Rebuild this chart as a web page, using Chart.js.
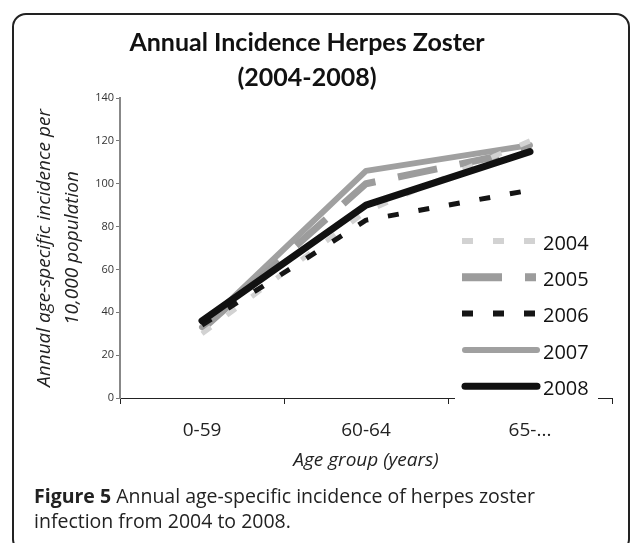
<!DOCTYPE html>
<html><head><meta charset="utf-8">
<script src="https://cdn.jsdelivr.net/npm/chart.js@4/dist/chart.umd.min.js"></script>
<style>
html,body{margin:0;padding:0;background:#fff;}
#wrap{position:relative;width:635px;height:543px;overflow:hidden;}
#frame{position:absolute;left:12px;top:13px;width:618px;height:540px;border:2px solid #222;border-radius:14px;box-sizing:border-box;}
canvas{position:absolute;left:0;top:0;}
#cap{position:absolute;left:34px;top:483px;font-family:"Open Sans",sans-serif;font-size:19.5px;line-height:25px;color:#222;}
</style></head>
<body><div id="wrap"><div id="frame"></div><canvas id="c" width="635" height="543"></canvas>
<div id="cap"><b>Figure 5</b> Annual age-specific incidence of herpes zoster<br>infection from 2004 to 2008.</div></div>
<script>
const categories = ["0-59", "60-64", "65-..."];
const years = ["2004", "2005", "2006", "2007", "2008"];
const v2004 = [30, 87, 120];
const v2005 = [32, 100, 116];
const v2006 = [34, 83, 97];
const v2007 = [33, 106, 118];
const v2008 = [36, 90, 115];
const yTicks = [0, 20, 40, 60, 80, 100, 120, 140];

const styles = {
  "2004": {color:"#d2d2d2", width:5, dash:[11,20], cap:"butt", order:2},
  "2005": {color:"#9c9c9c", width:7, dash:[40,23], cap:"butt", order:3},
  "2006": {color:"#151515", width:5, dash:[11,20], cap:"butt", order:1},
  "2007": {color:"#a0a0a0", width:6, dash:[], cap:"round", order:4},
  "2008": {color:"#111111", width:7, dash:[], cap:"round", order:0}
};
const values = {"2004":v2004, "2005":v2005, "2006":v2006, "2007":v2007, "2008":v2008};

const datasets = years.map(y => ({
  label: y, data: values[y],
  borderColor: styles[y].color, backgroundColor: styles[y].color,
  borderWidth: styles[y].width, borderDash: styles[y].dash,
  borderCapStyle: styles[y].cap, borderJoinStyle: "round",
  pointRadius: 0, tension: 0, fill: false, order: styles[y].order
}));

const textPlugin = {
  id: "texts",
  afterDraw(chart) {
    const ctx = chart.ctx;
    ctx.save();
    ctx.fillStyle = "#111";
    ctx.font = "bold 25px Lato, sans-serif";
    ctx.textAlign = "center"; ctx.textBaseline = "middle";
    ctx.fillText("Annual Incidence Herpes Zoster", 307, 43);
    ctx.fillText("(2004-2008)", 307, 78);
    // legend
    ctx.fillStyle = "#fff";
    ctx.fillRect(455, 222, 143, 180);
    const x0 = 462, x1 = 540;
    years.forEach((y, i) => {
      const s = styles[y];
      const yy = 241 + i * 36.3;
      ctx.beginPath();
      ctx.strokeStyle = s.color; ctx.lineWidth = s.width + (s.cap === "round" ? 0 : 1);
      ctx.lineCap = s.cap; ctx.setLineDash(s.dash);
      const xs = s.cap === "round" ? x0 + 3 : x0;
      const xe = s.cap === "round" ? x1 - 3 : x1 - 4;
      ctx.moveTo(xs, yy); ctx.lineTo(xe, yy); ctx.stroke();
      ctx.setLineDash([]);
      ctx.fillStyle = "#111";
      ctx.font = "20px 'Open Sans', sans-serif";
      ctx.textAlign = "left"; ctx.textBaseline = "middle";
      ctx.fillText(y, 543, yy + 3);
    });
    ctx.restore();
  }
};

new Chart(document.getElementById("c"), {
  type: "line",
  data: { labels: categories, datasets },
  options: {
    responsive: false, animation: false,
    layout: { padding: { top: 98, right: 23, left: 0, bottom: 0 } },
    plugins: { legend: { display: false }, title: { display: false }, tooltip: { enabled: false } },
    scales: {
      x: {
        offset: true,
        grid: { drawOnChartArea: false, drawTicks: true, tickLength: 6, tickColor: "#222", offset: true },
        border: { color: "#222", width: 1 },
        ticks: { color: "#222", font: { family: "'Open Sans', sans-serif", size: 19 }, padding: 15 },
        title: { display: true, text: "Age group (years)", color: "#222",
          font: { family: "'Open Sans', sans-serif", size: 19, style: "italic" }, padding: { top: 0, bottom: 71 } },
        afterFit(scale) { scale.height = 145; }
      },
      y: {
        min: 0, max: 140,
        afterBuildTicks(scale) { scale.ticks = yTicks.map(v => ({ value: v })); },
        grid: { drawOnChartArea: false, drawTicks: true, tickLength: 4, tickColor: "#777" },
        border: { color: "#888", width: 2 },
        ticks: { color: "#333", font: { family: "'Open Sans', sans-serif", size: 11 }, padding: 2 },
        title: { display: true, text: ["Annual age-specific incidence per", "10,000 population"], color: "#222",
          font: { family: "'Open Sans', sans-serif", size: 19, style: "italic", lineHeight: 1.47 }, padding: { top: 31, bottom: 0 } },
        afterFit(scale) { scale.width = 120; }
      }
    }
  },
  plugins: [textPlugin]
});
</script></body></html>
